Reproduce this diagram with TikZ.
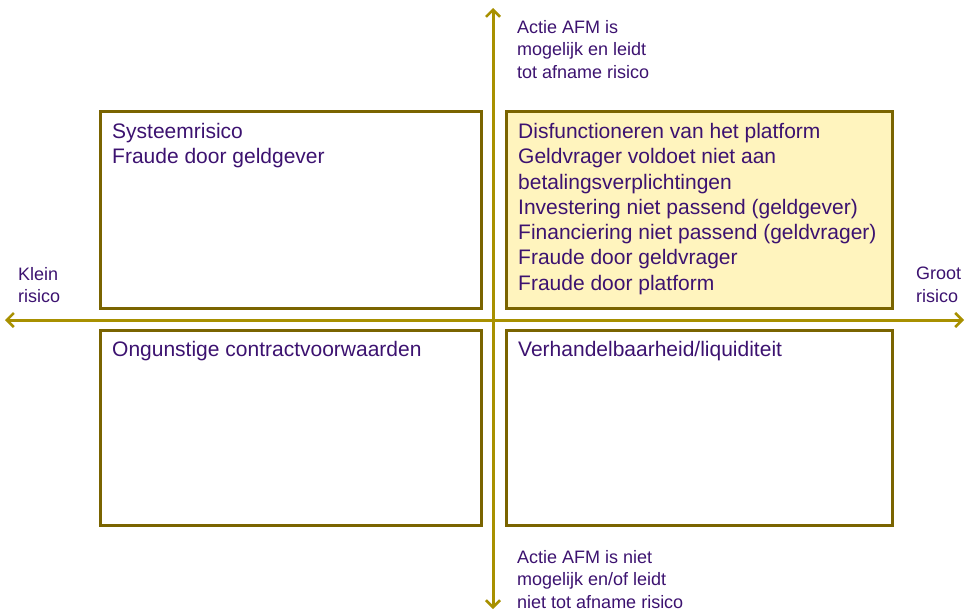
\documentclass[tikz,border=0pt]{standalone}
\usepackage{fontspec}
\setmainfont{Liberation Sans}
\usetikzlibrary{arrows.meta}
\definecolor{axisc}{HTML}{A89000}
\definecolor{boxc}{HTML}{7A6400}
\definecolor{txtc}{HTML}{3C1270}
\definecolor{fillc}{HTML}{FFF4BE}
\begin{document}
\begin{tikzpicture}[x=1pt,y=-1pt,
  quad/.style={draw=boxc,line width=3pt},
  boxtext/.style={anchor=north west,align=left,text=txtc,font=\fontsize{21}{25.3}\selectfont,inner sep=0pt},
  axlabel/.style={anchor=north west,align=left,text=txtc,font=\fontsize{18}{22.5}\selectfont,inner sep=0pt},
  axis/.style={draw=axisc,line width=3pt,-{Straight Barb[length=7pt,width=14pt,line width=2.5pt]}}]
\useasboundingbox (0,0) rectangle (967,613);
\path[quad,fill=fillc] (506,111) rectangle (892,308);
\path[quad] (100,111) rectangle (481,308);
\path[quad] (100,330) rectangle (481,525);
\path[quad] (506,330) rectangle (892,525);
\coordinate (c) at (493,320);
\coordinate (l) at (5,320);
\coordinate (r) at (964,320);
\coordinate (t) at (493,8);
\coordinate (b) at (493,609);
\draw[axis] (c) -- (l);
\draw[axis] (c) -- (r);
\draw[axis] (c) -- (t);
\draw[axis] (c) -- (b);
\node[boxtext] (tl) at (112,123) {Systeemrisico\\Fraude door geldgever};
\node[boxtext] (tr) at (518,123) {Disfunctioneren van het platform\\Geldvrager voldoet niet aan\\betalingsverplichtingen\\Investering niet passend (geldgever)\\Financiering niet passend (geldvrager)\\Fraude door geldvrager\\Fraude door platform};
\node[boxtext] (bl) at (112,341) {Ongunstige contractvoorwaarden};
\node[boxtext] (br) at (518,341) {Verhandelbaarheid/liquiditeit};
\node[axlabel] (top) at (517,20) {Actie AFM is\\mogelijk en leidt\\tot afname risico};
\node[axlabel] (bot) at (517,550) {Actie AFM is niet\\mogelijk en/of leidt\\niet tot afname risico};
\node[axlabel] (kl) at (18,267) {Klein\\risico};
\node[axlabel] (gr) at (916,267) {Groot\\risico};
\end{tikzpicture}
\end{document}
